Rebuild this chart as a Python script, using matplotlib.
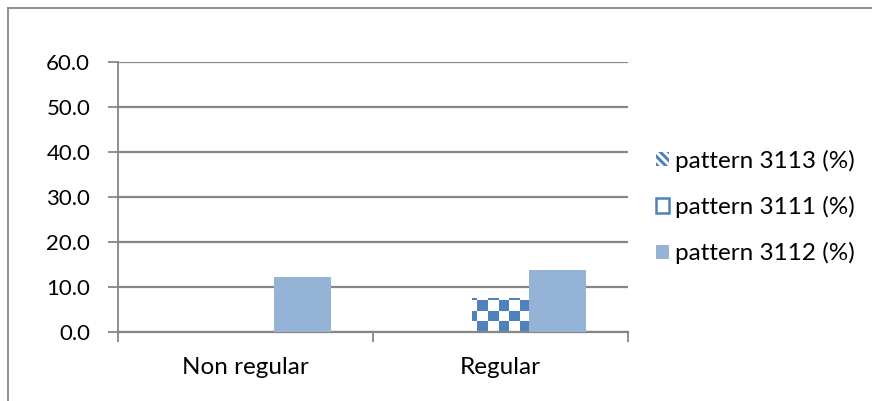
import matplotlib
matplotlib.use("Agg")
import matplotlib.pyplot as plt
import numpy as np
from matplotlib.patches import Patch
from matplotlib.lines import Line2D

plt.rcParams['font.family'] = ['Lato', 'DejaVu Sans']
plt.rcParams['hatch.linewidth'] = 2.2

categories = ["Non regular", "Regular"]
series_names = ["pattern 3113 (%)", "pattern 3111 (%)", "pattern 3112 (%)"]
p3113 = [0.0, 0.0]
p3111 = [0.0, 7.6]
p3112 = [12.2, 13.8]
yticks = [0, 10, 20, 30, 40, 50, 60]

dark_blue = "#4F81BD"
light_blue = "#95B3D7"
grid_gray = "#868686"

fig = plt.figure(figsize=(8.72, 4.01), dpi=100)
ax = fig.add_axes([118/872, 69/401, 510/872, 270/401])

x = np.arange(len(categories))
w = 0.224

b13 = ax.bar(x - w, p3113, w, color="white", edgecolor=dark_blue, hatch="\\\\\\\\", linewidth=0)
b11 = ax.bar(x, p3111, w, color="white", linewidth=0)
b12 = ax.bar(x + w, p3112, w, color=light_blue, linewidth=0, zorder=3)

# checkerboard fill for the 3111 bars, clipped to each bar
cell_px = 10.5
cx = cell_px / 255.0
cy = cell_px / 4.5
for rect in b11:
    h = rect.get_height()
    if h <= 0:
        continue
    x0 = rect.get_x()
    nx = int(np.ceil(rect.get_width() / cx)) + 1
    ny = int(np.ceil(h / cy)) + 1
    board = (np.add.outer(np.arange(ny), np.arange(nx)) % 2).astype(float)
    im = ax.imshow(board, cmap=matplotlib.colors.ListedColormap(["white", dark_blue]),
                   extent=(x0 - cx * 0.5, x0 - cx * 0.5 + nx * cx, 0, ny * cy),
                   origin="lower", interpolation="nearest", aspect="auto", zorder=2)
    im.set_clip_path(rect)

ax.set_xlim(-0.5, 1.5)
ax.set_ylim(0, 60)
ax.set_aspect("auto")
ax.set_yticks(yticks)
ax.set_yticklabels([f"{v:.1f}" for v in yticks], fontsize=16)
ax.yaxis.grid(True, color=grid_gray, linewidth=1.6)
ax.set_axisbelow(True)

ax.set_xticks([-0.5, 0.5, 1.5])
ax.set_xticklabels([])
ax.set_xticks(x, minor=True)
ax.set_xticklabels(categories, minor=True, fontsize=17.5)
ax.tick_params(axis="x", which="minor", length=0, pad=18)
ax.tick_params(axis="x", which="major", length=7, width=1.3, color=grid_gray)
ax.tick_params(axis="y", length=7, width=1.3, color=grid_gray, pad=13)

for s in ["top", "right"]:
    ax.spines[s].set_visible(False)
ax.spines["left"].set_color(grid_gray)
ax.spines["left"].set_linewidth(1.3)
ax.spines["bottom"].set_color(grid_gray)
ax.spines["bottom"].set_linewidth(1.6)

handles = [
    Patch(facecolor="white", edgecolor=dark_blue, hatch="\\\\\\\\", linewidth=0),
    Patch(facecolor="white", edgecolor=dark_blue, linewidth=1.8),
    Patch(facecolor=light_blue, linewidth=0),
]
fig.legend(handles, series_names, loc="center left", bbox_to_anchor=(656/872, 1 - 207/401),
           frameon=False, fontsize=17.5, handlelength=0.55, handleheight=0.55,
           handletextpad=0.25, labelspacing=1.0, borderaxespad=0, borderpad=0)

# outer chart border
fig.add_artist(Line2D([7.5/872, 7.5/872], [0, 1 - 7.5/401], color=grid_gray, linewidth=1.3))
fig.add_artist(Line2D([7.5/872, 1], [1 - 7.5/401, 1 - 7.5/401], color=grid_gray, linewidth=1.3))

fig.savefig("out.png", dpi=100)
